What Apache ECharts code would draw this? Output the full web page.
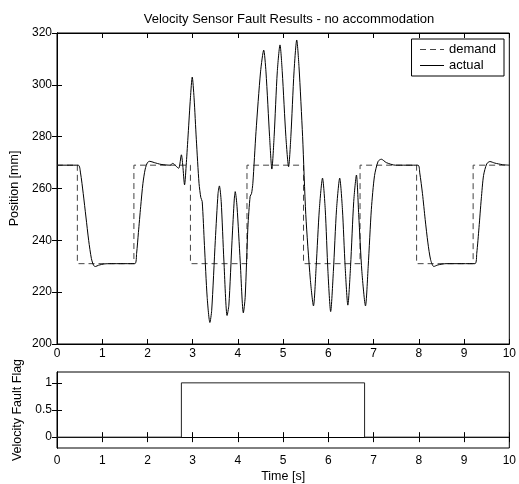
<!DOCTYPE html>
<html>
<head>
<meta charset="utf-8">
<script src="https://cdn.jsdelivr.net/npm/echarts@6/dist/echarts.min.js"></script>
<style>
  html, body { margin: 0; padding: 0; background: #fff; }
  #chart { width: 519px; height: 484px; }
</style>
</head>
<body>
<div id="chart"></div>
<script>
// demand position (square wave)
const demandT = [0, 0.45, 0.45, 1.7, 1.7, 2.95, 2.95, 4.2, 4.2, 5.45, 5.45, 6.7, 6.7, 7.95, 7.95, 9.2, 9.2, 10]
const demandPos = [269, 269, 231, 231, 269, 269, 231, 231, 269, 269, 231, 231, 269, 269, 231, 231, 269, 269]

// actual position
const actualT = [
    0, 0.47, 0.52, 0.58, 0.64, 0.7, 0.76, 0.81, 0.85, 0.92, 1.05, 1.2,
    1.72, 1.76, 1.8, 1.85, 1.9, 1.95, 2.0, 2.05, 2.15, 2.3, 2.5,
    2.56, 2.62, 2.69, 2.75, 2.78, 2.82, 2.86, 2.9, 2.95, 2.99, 3.03, 3.08, 3.14, 3.18, 3.21,
    3.26, 3.32, 3.38, 3.42, 3.5, 3.56, 3.59, 3.63, 3.69, 3.76, 3.8, 3.87, 3.92, 3.94,
    3.98, 4.05, 4.12, 4.16, 4.22, 4.27, 4.3, 4.33, 4.4, 4.5, 4.57, 4.62, 4.7, 4.75,
    4.8, 4.87, 4.93, 4.98, 5.06, 5.12, 5.17, 5.24, 5.3, 5.35, 5.43, 5.5, 5.6, 5.67,
    5.73, 5.8, 5.87, 5.93, 5.99, 6.05, 6.11, 6.18, 6.25, 6.31, 6.37, 6.43, 6.49, 6.56,
    6.62, 6.67, 6.74, 6.82, 6.88, 6.95, 7.02, 7.1, 7.17, 7.28, 7.48,
    7.98, 8.02, 8.08, 8.14, 8.2, 8.26, 8.33, 8.42, 8.6,
    9.24, 9.28, 9.33, 9.38, 9.43, 9.5, 9.57, 9.68, 9.85, 10
]
const actualPos = [
    269, 269, 266, 258, 249, 240, 233, 230.3, 229.9, 230.4, 230.9, 231,
    231, 235, 243, 253, 262, 267.5, 270, 270.5, 270, 269.3, 269,
    269.7, 268.8, 267.8, 273, 269, 261.4, 270, 281, 295, 303, 295, 279, 262, 256.5, 255,
    238, 218, 208.3, 213, 240, 258, 261, 255, 232, 211, 215, 240, 256, 258.8,
    253, 232, 212, 218, 245, 257, 258, 262, 282, 305, 313.4, 305, 280, 267.5,
    280, 305, 315.4, 305, 280, 268.4, 280, 305, 317.3, 307, 280, 250, 225, 214.7,
    230, 252, 264, 252, 228, 212.5, 228, 252, 264, 252, 230, 215, 230, 255,
    265.2, 250, 228, 214.7, 230, 252, 265, 270.5, 271.3, 270, 269,
    269, 266, 258, 248, 239, 232.5, 229.9, 230.5, 231,
    231, 235, 245, 256, 265, 269.5, 270.4, 269.8, 269.2, 269
]

// velocity fault flag
const flagT = [0, 2.75, 2.75, 6.8, 6.8, 10]
const flagVal = [0, 0, 1, 1, 0, 0]

const pairs = (xs, ys) => xs.map((x, i) => [x, ys[i]])

const font = "'Liberation Sans', Arial, sans-serif"
const labelStyle = { color: "#000", fontSize: 12, fontFamily: font }
const nameStyle = { color: "#000", fontSize: 12.5, fontFamily: font }
const tickIn = { show: true, inside: true, length: 5, lineStyle: { color: "#000" } }
const lineBlack = { show: true, lineStyle: { color: "#000", width: 1 } }

let chart = echarts.init(document.getElementById("chart"))
let option = {
    animation: false,
    backgroundColor: "#fff",
    title: {
        text: "Velocity Sensor Fault Results - no accommodation",
        left: 284,
        textAlign: "center",
        top: 8,
        textStyle: { fontSize: 13, fontWeight: "normal", color: "#000", fontFamily: font }
    },
    legend: {
        data: ["demand", "actual"],
        orient: "vertical",
        right: 15,
        top: 39,
        itemWidth: 24,
        itemHeight: 10,
        itemGap: 3,
        padding: [4, 8, 4, 8],
        borderColor: "#000",
        borderWidth: 1,
        borderRadius: 0,
        backgroundColor: "#fff",
        itemStyle: { opacity: 0 },
        lineStyle: { width: 1 },
        textStyle: { fontSize: 13, color: "#000", fontFamily: font }
    },
    grid: [
        { left: 57, right: 8, top: 33, height: 311, show: true, borderColor: "#000", borderWidth: 1 },
        { left: 57, right: 8, top: 372, height: 76, show: true, borderColor: "#000", borderWidth: 1 }
    ],
    xAxis: [
        {
            gridIndex: 0, type: "value", min: 0, max: 10, interval: 1,
            axisLine: lineBlack, axisTick: tickIn, splitLine: { show: false },
            axisLabel: Object.assign({ margin: 4 }, labelStyle)
        },
        {
            gridIndex: 0, type: "value", position: "top", min: 0, max: 10, interval: 1,
            axisLine: lineBlack, axisTick: tickIn, splitLine: { show: false },
            axisLabel: { show: false }
        },
        {
            gridIndex: 1, type: "value", min: 0, max: 10, interval: 1,
            axisLine: lineBlack, axisTick: tickIn, splitLine: { show: false },
            axisLabel: Object.assign({ margin: 7 }, labelStyle),
            name: "Time [s]", nameLocation: "middle", nameGap: 22,
            nameTextStyle: nameStyle
        },
        {
            gridIndex: 1, type: "value", position: "top", min: 0, max: 10, interval: 1,
            axisLine: lineBlack, axisTick: tickIn, splitLine: { show: false },
            axisLabel: { show: false }
        }
    ],
    yAxis: [
        {
            gridIndex: 0, type: "value", min: 200, max: 320, interval: 20,
            axisLine: lineBlack, axisTick: tickIn, splitLine: { show: false },
            axisLabel: Object.assign({ margin: 5 }, labelStyle),
            name: "Position [mm]", nameLocation: "middle", nameGap: 31,
            nameTextStyle: nameStyle
        },
        {
            gridIndex: 0, type: "value", position: "right", min: 200, max: 320, interval: 20,
            axisLine: lineBlack, axisTick: tickIn, splitLine: { show: false },
            axisLabel: { show: false }
        },
        {
            gridIndex: 1, type: "value", min: -0.2, max: 1.2,
            axisLine: lineBlack, splitLine: { show: false },
            axisTick: Object.assign({ customValues: [0, 0.5, 1] }, tickIn),
            axisLabel: Object.assign({ margin: 5, customValues: [0, 0.5, 1] }, labelStyle),
            name: "Velocity Fault Flag", nameLocation: "middle", nameGap: 28,
            nameTextStyle: nameStyle
        },
        {
            gridIndex: 1, type: "value", position: "right", min: -0.2, max: 1.2,
            axisLine: lineBlack, splitLine: { show: false },
            axisTick: Object.assign({ customValues: [0, 0.5, 1] }, tickIn),
            axisLabel: { show: false }
        }
    ],
    series: [
        {
            name: "demand",
            type: "line",
            xAxisIndex: 0, yAxisIndex: 0,
            data: pairs(demandT, demandPos),
            symbol: "none",
            itemStyle: { color: "#444" },
            lineStyle: { color: "#444", width: 1, type: [6, 4] }
        },
        {
            name: "actual",
            type: "line",
            xAxisIndex: 0, yAxisIndex: 0,
            data: pairs(actualT, actualPos),
            symbol: "none",
            smooth: 0.25,
            itemStyle: { color: "#000" },
            lineStyle: { color: "#000", width: 1 }
        },
        {
            name: "flag",
            type: "line",
            xAxisIndex: 2, yAxisIndex: 2,
            data: pairs(flagT, flagVal),
            symbol: "none",
            itemStyle: { color: "#222" },
            lineStyle: { color: "#222", width: 1 }
        }
    ]
}
chart.setOption(option)
</script>
</body>
</html>
